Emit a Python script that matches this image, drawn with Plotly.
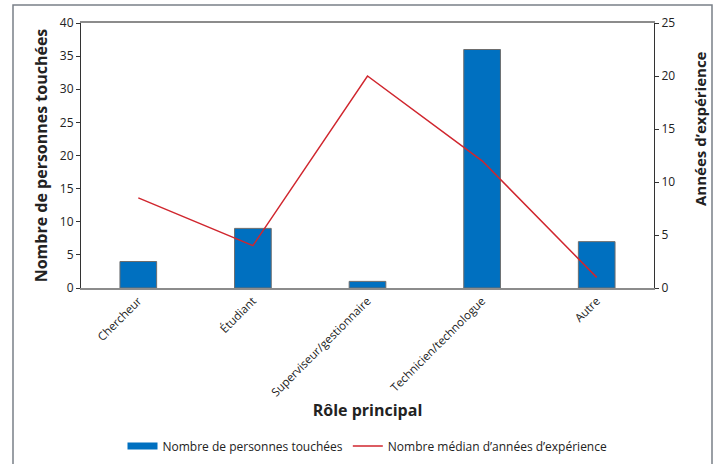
import plotly.graph_objects as go

roles = ["Chercheur", "Étudiant", "Superviseur/gestionnaire", "Technicien/technologue", "Autre"]
personnes = [4, 9, 1, 36, 7]
annees_mediane = [8.5, 4, 20, 12, 1]

FONT = "'Open Sans', Lato, sans-serif"
TXT = "#222222"
BAR_COLOR = "#0070c0"
LINE_COLOR = "#d0262e"
NAME_BAR = "Nombre de personnes touchées"
NAME_LINE = "Nombre médian d’années d’expérience"

W, H = 720, 464
L, R, T, B = 81, 66, 23, 176
pw, ph = W - L - R, H - T - B

fig = go.Figure()
fig.add_trace(go.Bar(
    x=roles, y=personnes, name=NAME_BAR, showlegend=False,
    marker=dict(color=BAR_COLOR, line=dict(color="#6d6d6d", width=1)),
    width=0.32, yaxis="y",
))
fig.add_trace(go.Scatter(
    x=roles, y=annees_mediane, name=NAME_LINE, showlegend=False,
    mode="lines", line=dict(color=LINE_COLOR, width=1.5), yaxis="y2",
))
# legend entries: wide flat swatch for the bars, thin line for the median
fig.add_trace(go.Scatter(x=[None], y=[None], name=NAME_BAR, mode="lines",
                         line=dict(color=BAR_COLOR, width=7)))
fig.add_trace(go.Scatter(x=[None], y=[None], name=NAME_LINE, mode="lines",
                         line=dict(color=LINE_COLOR, width=1.5), yaxis="y2"))


def px_to_paper_x(px):
    return (px - L) / pw


def px_to_paper_y(py):
    return (H - B - py) / ph


# outer frame: left, top and right edges (the bottom runs off the page)
fx0, fx1 = px_to_paper_x(13), px_to_paper_x(712)
fy0, fy1 = px_to_paper_y(470), px_to_paper_y(5)
fig.add_shape(type="path", xref="paper", yref="paper",
              path=f"M {fx0},{fy0} L {fx0},{fy1} L {fx1},{fy1} L {fx1},{fy0}",
              line=dict(color="#7a8088", width=1.5), layer="below")

# right-hand axis title
fig.add_annotation(text="<b>Années d’expérience</b>", xref="paper", yref="paper",
                   x=px_to_paper_x(700), y=px_to_paper_y(128),
                   xanchor="center", yanchor="middle", textangle=-90,
                   showarrow=False, font=dict(size=15, color=TXT))

fig.update_layout(
    width=W, height=H,
    margin=dict(l=L, r=R, t=T, b=B, autoexpand=False),
    paper_bgcolor="white", plot_bgcolor="white",
    font=dict(family=FONT, color=TXT, size=12),
    showlegend=True,
    legend=dict(orientation="h", x=0.5, xanchor="center",
                y=px_to_paper_y(446), yanchor="middle",
                font=dict(size=12, color=TXT), itemwidth=30,
                tracegroupgap=0, bgcolor="rgba(0,0,0,0)"),
    xaxis=dict(
        automargin=False,
        showgrid=False, showline=True, linecolor="#8c8c8c", linewidth=1.5,
        mirror=True, ticks="", tickangle=-45,
        tickfont=dict(size=11.5, color=TXT),
        title=dict(text="<b>Rôle principal</b>", font=dict(size=16, color=TXT), standoff=6),
    ),
    yaxis=dict(
        automargin=False,
        range=[0, 40], dtick=5, showgrid=False, zeroline=False,
        showline=True, linecolor="#333333", linewidth=1,
        ticks="outside", ticklen=4, tickcolor="#333333",
        tickfont=dict(size=12, color=TXT),
        title=dict(text="<b>Nombre de personnes touchées</b>", font=dict(size=16, color=TXT), standoff=8),
    ),
    yaxis2=dict(
        automargin=False,
        range=[0, 25], dtick=5, overlaying="y", side="right",
        showgrid=False, zeroline=False,
        showline=True, linecolor="#333333", linewidth=1,
        ticks="outside", ticklen=4, tickcolor="#333333",
        tickfont=dict(size=12, color=TXT),
    ),
)

fig.write_html("out.html")
